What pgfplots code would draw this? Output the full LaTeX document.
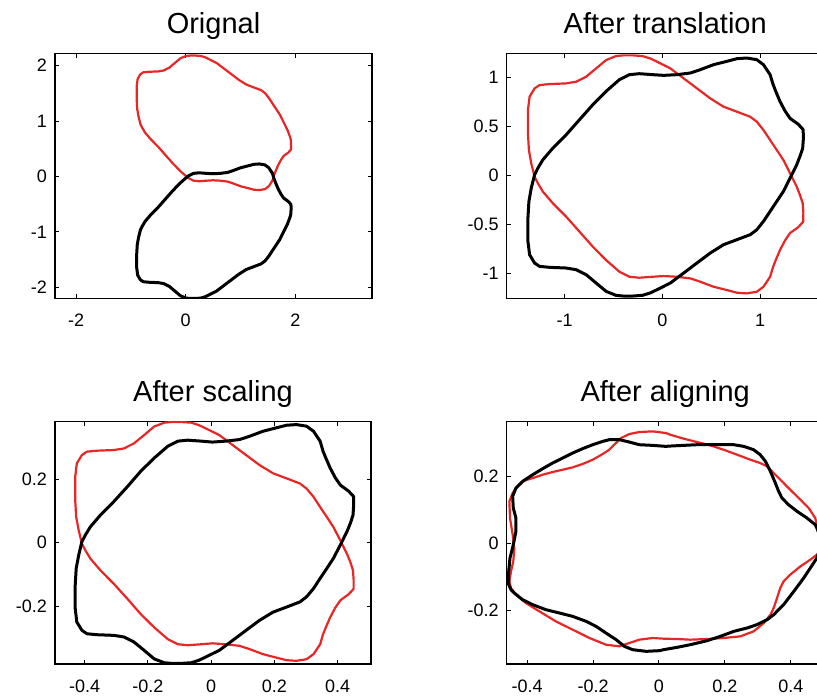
\documentclass[border=0pt]{standalone}
\usepackage{fontspec}
\setmainfont{Liberation Sans}
\usepackage{pgfplots}
\pgfplotsset{compat=1.18}
\definecolor{mred}{RGB}{232,38,38}
\pgfplotsset{
  myax/.style={scale only axis, anchor=south west, tick align=inside,
    major tick length=2.2pt, axis line style={line width=0.6pt},
    every tick/.style={black, line width=0.5pt},
    /pgf/number format/assume math mode=true,
    ticklabel style={font=\fontsize{9}{10}\selectfont},
    xticklabel style={yshift=-4.5pt},
    yticklabel style={xshift=-0.5pt},
    title style={font=\fontsize{14.5}{16}\selectfont, at={(0.5,1)}, anchor=base, yshift=4pt},
    minor tick num=0},
  redc/.style={mred, line width=1.1pt, line join=round, no marks},
  blkc/.style={black, line width=1.5pt, line join=round, no marks}
}
\begin{document}
\begin{tikzpicture}
\path[use as bounding box, clip] (0,0) rectangle (408.5pt,349pt);
% ---------------- Original
\begin{axis}[myax, at={(27.5pt,199.85pt)}, width=158.5pt, height=122.5pt,
  xmin=-2.384, xmax=3.398, ymin=-2.2, ymax=2.224,
  xtick={-2,0,2}, ytick={-2,-1,0,1,2}, title={Orignal}]
\addplot[redc] coordinates {(0.007,2.176) (0.080,2.183) (0.180,2.183) (0.280,2.175) (0.360,2.150) (0.426,2.118) (0.562,2.050) (0.698,1.948) (0.834,1.846) (0.970,1.744) (1.106,1.659) (1.242,1.608) (1.378,1.557) (1.446,1.506) (1.514,1.421) (1.582,1.319) (1.650,1.217) (1.718,1.115) (1.786,0.979) (1.854,0.843) (1.888,0.755) (1.915,0.675) (1.922,0.575) (1.920,0.485) (1.870,0.430) (1.786,0.370) (1.735,0.295) (1.683,0.197) (1.640,0.095) (1.612,0.023) (1.582,-0.076) (1.514,-0.178) (1.446,-0.229) (1.344,-0.246) (1.242,-0.239) (1.140,-0.212) (1.004,-0.178) (0.868,-0.127) (0.766,-0.093) (0.630,-0.076) (0.494,-0.069) (0.381,-0.076) (0.245,-0.086) (0.143,-0.076) (0.041,-0.025) (-0.095,0.094) (-0.231,0.231) (-0.367,0.384) (-0.503,0.537) (-0.639,0.673) (-0.741,0.792) (-0.792,0.877) (-0.826,0.945) (-0.860,1.081) (-0.884,1.217) (-0.894,1.387) (-0.894,1.625) (-0.877,1.761) (-0.826,1.846) (-0.775,1.880) (-0.673,1.890) (-0.503,1.897) (-0.401,1.914) (-0.299,1.965) (-0.197,2.050) (-0.095,2.135) (0.007,2.176)};
\addplot[blkc] coordinates {(0.007,-2.196) (0.080,-2.203) (0.180,-2.203) (0.280,-2.195) (0.360,-2.170) (0.426,-2.138) (0.562,-2.070) (0.698,-1.968) (0.834,-1.866) (0.970,-1.764) (1.106,-1.679) (1.242,-1.628) (1.378,-1.577) (1.446,-1.526) (1.514,-1.441) (1.582,-1.339) (1.650,-1.237) (1.718,-1.135) (1.786,-0.999) (1.854,-0.863) (1.888,-0.775) (1.915,-0.695) (1.922,-0.595) (1.920,-0.505) (1.870,-0.450) (1.786,-0.390) (1.735,-0.315) (1.683,-0.217) (1.640,-0.115) (1.612,-0.043) (1.582,0.056) (1.514,0.158) (1.446,0.209) (1.344,0.226) (1.242,0.219) (1.140,0.192) (1.004,0.158) (0.868,0.107) (0.766,0.073) (0.630,0.056) (0.494,0.049) (0.381,0.056) (0.245,0.066) (0.143,0.056) (0.041,0.005) (-0.095,-0.114) (-0.231,-0.251) (-0.367,-0.404) (-0.503,-0.557) (-0.639,-0.693) (-0.741,-0.812) (-0.792,-0.897) (-0.826,-0.965) (-0.860,-1.101) (-0.884,-1.237) (-0.894,-1.407) (-0.894,-1.645) (-0.877,-1.781) (-0.826,-1.866) (-0.775,-1.900) (-0.673,-1.910) (-0.503,-1.917) (-0.401,-1.934) (-0.299,-1.985) (-0.197,-2.070) (-0.095,-2.155) (0.007,-2.196)};
\end{axis}
% ---------------- After translation
\begin{axis}[myax, at={(253.35pt,199.85pt)}, width=158.5pt, height=122.5pt,
  xmin=-1.591, xmax=1.650, ymin=-1.251, ymax=1.249,
  xtick={-1,0,1}, ytick={-1,-0.5,0,0.5,1}, title={After translation}]
\addplot[redc] coordinates {(-0.473,1.221) (-0.40,1.228) (-0.30,1.228) (-0.20,1.220) (-0.12,1.195) (-0.054,1.163) (0.082,1.095) (0.218,0.993) (0.354,0.891) (0.490,0.789) (0.626,0.704) (0.762,0.653) (0.898,0.602) (0.966,0.551) (1.034,0.466) (1.102,0.364) (1.170,0.262) (1.238,0.160) (1.306,0.024) (1.374,-0.112) (1.408,-0.200) (1.435,-0.280) (1.442,-0.380) (1.440,-0.470) (1.390,-0.525) (1.306,-0.585) (1.255,-0.660) (1.203,-0.758) (1.160,-0.860) (1.132,-0.932) (1.102,-1.031) (1.034,-1.133) (0.966,-1.184) (0.864,-1.201) (0.762,-1.194) (0.660,-1.167) (0.524,-1.133) (0.388,-1.082) (0.286,-1.048) (0.150,-1.031) (0.014,-1.024) (-0.099,-1.031) (-0.235,-1.041) (-0.337,-1.031) (-0.439,-0.980) (-0.575,-0.861) (-0.711,-0.724) (-0.847,-0.571) (-0.983,-0.418) (-1.119,-0.282) (-1.221,-0.163) (-1.272,-0.078) (-1.306,-0.010) (-1.340,0.126) (-1.364,0.262) (-1.374,0.432) (-1.374,0.670) (-1.357,0.806) (-1.306,0.891) (-1.255,0.925) (-1.153,0.935) (-0.983,0.942) (-0.881,0.959) (-0.779,1.010) (-0.677,1.095) (-0.575,1.180) (-0.473,1.221)};
\addplot[blkc] coordinates {(-0.473,-1.221) (-0.40,-1.228) (-0.30,-1.228) (-0.20,-1.220) (-0.12,-1.195) (-0.054,-1.163) (0.082,-1.095) (0.218,-0.993) (0.354,-0.891) (0.490,-0.789) (0.626,-0.704) (0.762,-0.653) (0.898,-0.602) (0.966,-0.551) (1.034,-0.466) (1.102,-0.364) (1.170,-0.262) (1.238,-0.160) (1.306,-0.024) (1.374,0.112) (1.408,0.200) (1.435,0.280) (1.442,0.380) (1.440,0.470) (1.390,0.525) (1.306,0.585) (1.255,0.660) (1.203,0.758) (1.160,0.860) (1.132,0.932) (1.102,1.031) (1.034,1.133) (0.966,1.184) (0.864,1.201) (0.762,1.194) (0.660,1.167) (0.524,1.133) (0.388,1.082) (0.286,1.048) (0.150,1.031) (0.014,1.024) (-0.099,1.031) (-0.235,1.041) (-0.337,1.031) (-0.439,0.980) (-0.575,0.861) (-0.711,0.724) (-0.847,0.571) (-0.983,0.418) (-1.119,0.282) (-1.221,0.163) (-1.272,0.078) (-1.306,0.010) (-1.340,-0.126) (-1.364,-0.262) (-1.374,-0.432) (-1.374,-0.670) (-1.357,-0.806) (-1.306,-0.891) (-1.255,-0.925) (-1.153,-0.935) (-0.983,-0.942) (-0.881,-0.959) (-0.779,-1.010) (-0.677,-1.095) (-0.575,-1.180) (-0.473,-1.221)};
\end{axis}
% ---------------- After scaling
\begin{axis}[myax, at={(27.5pt,17pt)}, width=158pt, height=121.15pt,
  xmin=-0.494, xmax=0.506, ymin=-0.381, ymax=0.380,
  xtick={-0.4,-0.2,0,0.2,0.4}, ytick={-0.2,0,0.2}, title={After scaling}]
\addplot[redc] coordinates {(-0.148,0.377) (-0.125,0.379) (-0.094,0.379) (-0.063,0.377) (-0.038,0.369) (-0.017,0.359) (0.026,0.338) (0.068,0.307) (0.111,0.275) (0.153,0.244) (0.196,0.218) (0.239,0.202) (0.281,0.186) (0.302,0.170) (0.324,0.144) (0.345,0.112) (0.366,0.081) (0.387,0.049) (0.409,0.007) (0.430,-0.035) (0.441,-0.062) (0.449,-0.087) (0.451,-0.117) (0.451,-0.145) (0.435,-0.162) (0.409,-0.181) (0.393,-0.204) (0.377,-0.234) (0.363,-0.266) (0.354,-0.288) (0.345,-0.319) (0.324,-0.350) (0.302,-0.366) (0.270,-0.371) (0.239,-0.369) (0.207,-0.361) (0.164,-0.350) (0.121,-0.334) (0.090,-0.324) (0.047,-0.319) (0.004,-0.316) (-0.031,-0.319) (-0.074,-0.322) (-0.105,-0.319) (-0.137,-0.303) (-0.180,-0.266) (-0.223,-0.224) (-0.265,-0.176) (-0.308,-0.129) (-0.350,-0.087) (-0.382,-0.050) (-0.398,-0.024) (-0.409,-0.003) (-0.419,0.039) (-0.427,0.081) (-0.430,0.133) (-0.430,0.207) (-0.425,0.249) (-0.409,0.275) (-0.393,0.286) (-0.361,0.289) (-0.308,0.291) (-0.276,0.296) (-0.244,0.312) (-0.212,0.338) (-0.180,0.365) (-0.148,0.377)};
\addplot[blkc] coordinates {(-0.148,-0.377) (-0.125,-0.379) (-0.094,-0.379) (-0.063,-0.377) (-0.038,-0.369) (-0.017,-0.359) (0.026,-0.338) (0.068,-0.307) (0.111,-0.275) (0.153,-0.244) (0.196,-0.218) (0.239,-0.202) (0.281,-0.186) (0.302,-0.170) (0.324,-0.144) (0.345,-0.112) (0.366,-0.081) (0.387,-0.049) (0.409,-0.007) (0.430,0.035) (0.441,0.062) (0.449,0.087) (0.451,0.117) (0.451,0.145) (0.435,0.162) (0.409,0.181) (0.393,0.204) (0.377,0.234) (0.363,0.266) (0.354,0.288) (0.345,0.319) (0.324,0.350) (0.302,0.366) (0.270,0.371) (0.239,0.369) (0.207,0.361) (0.164,0.350) (0.121,0.334) (0.090,0.324) (0.047,0.319) (0.004,0.316) (-0.031,0.319) (-0.074,0.322) (-0.105,0.319) (-0.137,0.303) (-0.180,0.266) (-0.223,0.224) (-0.265,0.176) (-0.308,0.129) (-0.350,0.087) (-0.382,0.050) (-0.398,0.024) (-0.409,0.003) (-0.419,-0.039) (-0.427,-0.081) (-0.430,-0.133) (-0.430,-0.207) (-0.425,-0.249) (-0.409,-0.275) (-0.393,-0.286) (-0.361,-0.289) (-0.308,-0.291) (-0.276,-0.296) (-0.244,-0.312) (-0.212,-0.338) (-0.180,-0.365) (-0.148,-0.377)};
\end{axis}
% ---------------- After aligning
\begin{axis}[myax, at={(253.35pt,17pt)}, width=158.5pt, height=121.15pt,
  xmin=-0.462, xmax=0.4997, ymin=-0.362, ymax=0.365,
  xtick={-0.4,-0.2,0,0.2,0.4}, ytick={-0.2,0,0.2}, title={After aligning}]
\addplot[redc] coordinates {(0.021,0.331) (-0.019,0.336) (-0.060,0.334) (-0.090,0.328) (-0.115,0.316) (-0.136,0.296) (-0.151,0.281) (-0.171,0.268) (-0.201,0.251) (-0.232,0.238) (-0.262,0.228) (-0.292,0.221) (-0.323,0.214) (-0.353,0.206) (-0.383,0.196) (-0.409,0.188) (-0.429,0.171) (-0.444,0.151) (-0.454,0.126) (-0.452,0.076) (-0.444,0.026) (-0.439,-0.014) (-0.442,-0.054) (-0.449,-0.084) (-0.454,-0.114) (-0.449,-0.134) (-0.434,-0.154) (-0.404,-0.179) (-0.363,-0.204) (-0.313,-0.234) (-0.262,-0.259) (-0.211,-0.284) (-0.161,-0.304) (-0.120,-0.309) (-0.090,-0.299) (-0.060,-0.289) (-0.019,-0.284) (0.014,-0.286) (0.055,-0.287) (0.095,-0.289) (0.146,-0.287) (0.196,-0.284) (0.247,-0.279) (0.287,-0.264) (0.318,-0.239) (0.338,-0.214) (0.348,-0.194) (0.358,-0.164) (0.368,-0.134) (0.378,-0.114) (0.398,-0.094) (0.429,-0.069) (0.459,-0.049) (0.479,-0.034) (0.494,-0.012) (0.492,0.020) (0.479,0.056) (0.474,0.076) (0.454,0.106) (0.429,0.131) (0.398,0.161) (0.368,0.191) (0.348,0.211) (0.328,0.231) (0.307,0.241) (0.277,0.251) (0.237,0.266) (0.196,0.281) (0.156,0.294) (0.115,0.304) (0.075,0.314) (0.034,0.326) (0.021,0.331)};
\addplot[blkc] coordinates {(0.021,0.291) (-0.019,0.294) (-0.060,0.296) (-0.090,0.304) (-0.120,0.311) (-0.151,0.311) (-0.171,0.306) (-0.201,0.296) (-0.232,0.284) (-0.262,0.271) (-0.292,0.256) (-0.323,0.241) (-0.353,0.224) (-0.383,0.206) (-0.414,0.186) (-0.434,0.166) (-0.444,0.141) (-0.442,0.106) (-0.434,0.076) (-0.434,0.036) (-0.442,-0.004) (-0.452,-0.044) (-0.456,-0.084) (-0.456,-0.124) (-0.449,-0.139) (-0.439,-0.149) (-0.414,-0.169) (-0.383,-0.184) (-0.343,-0.199) (-0.302,-0.209) (-0.262,-0.219) (-0.221,-0.234) (-0.191,-0.249) (-0.161,-0.269) (-0.130,-0.289) (-0.105,-0.309) (-0.080,-0.319) (-0.039,-0.324) (0.001,-0.322) (0.014,-0.319) (0.055,-0.312) (0.095,-0.304) (0.146,-0.292) (0.186,-0.279) (0.227,-0.264) (0.267,-0.254) (0.297,-0.244) (0.328,-0.229) (0.348,-0.214) (0.378,-0.184) (0.409,-0.144) (0.439,-0.104) (0.459,-0.074) (0.479,-0.044) (0.496,0.000) (0.479,0.046) (0.474,0.056) (0.449,0.076) (0.419,0.096) (0.393,0.116) (0.373,0.136) (0.363,0.156) (0.353,0.181) (0.338,0.216) (0.323,0.246) (0.307,0.266) (0.287,0.281) (0.257,0.291) (0.227,0.296) (0.196,0.296) (0.156,0.296) (0.115,0.296) (0.075,0.294) (0.034,0.292) (0.021,0.291)};
\end{axis}
\end{tikzpicture}
\end{document}
